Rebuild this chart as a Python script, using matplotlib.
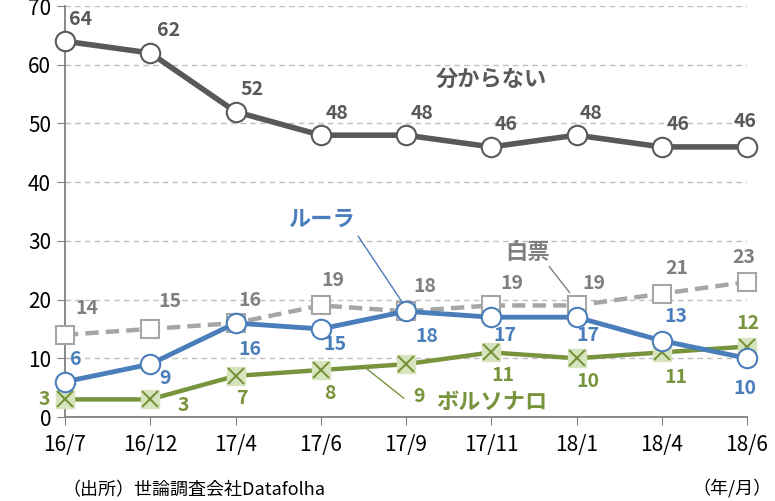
import matplotlib.pyplot as plt
import numpy as np

plt.rcParams['font.family'] = ['Noto Sans CJK JP', 'DejaVu Sans']

months = ['16/7', '16/12', '17/4', '17/6', '17/9', '17/11', '18/1', '18/4', '18/6']
unknown = [64, 62, 52, 48, 48, 46, 48, 46, 46]
lula = [6, 9, 16, 15, 18, 17, 17, 13, 10]
blank = [14, 15, 16, 19, 18, 19, 19, 21, 23]
bolsonaro = [3, 3, 7, 8, 9, 11, 10, 11, 12]

c_dark = '#595959'
c_blue = '#4a7ebb'
c_gray = '#a6a6a6'
c_green = '#77933c'
c_lgreen = '#d7e4bd'

# label offsets in pixels (dx, dy screen-up)
off_unknown = [(15, 22), (18, 22), (17, 22), (16, 22), (16, 22), (15, 22), (15, 22), (16, 22), (-2, 25)]
off_lula = [(11, 22), (15, -14), (14, -26), (14, -16), (21, -25), (14, -18), (11, -18), (14, 24), (-2, -30)]
off_blank = [(22, 26), (20, 27), (14, 23), (12, 25), (19, 25), (21, 22), (17, 22), (15, 25), (-3, 24)]
off_bols = [(-21, 0), (33, -6), (7, -23), (9, -23), (13, -32), (12, -23), (11, -23), (14, -25), (1, 23)]

fig = plt.figure(figsize=(7.75, 5.01), dpi=100)
ax = fig.add_axes([65 / 775, 1 - 417 / 501, 682 / 775, 411 / 501])

x = np.arange(len(months))

ax.plot(x, blank, color=c_gray, lw=3.2, ls=(0, (3, 1.6)), marker='s', ms=13,
        mfc='white', mec=c_gray, mew=1.5, zorder=3, clip_on=False)
ax.plot(x, bolsonaro, color=c_green, lw=3.2, marker='s', ms=13,
        mfc=c_lgreen, mec=c_lgreen, zorder=4, clip_on=False)
ax.plot(x, bolsonaro, ls='none', marker='x', ms=12, mec=c_green, mew=1.5,
        zorder=4, clip_on=False)
ax.plot(x, lula, color=c_blue, lw=3.5, marker='o', ms=14,
        mfc='white', mec=c_blue, mew=1.5, zorder=5, clip_on=False)
ax.plot(x, unknown, color=c_dark, lw=4, marker='o', ms=14,
        mfc='white', mec=c_dark, mew=1.5, zorder=6, clip_on=False)

def labels(vals, offs, col):
    for xi, v, (dx, dy) in zip(x, vals, offs):
        ax.annotate(str(v), (xi, v), xytext=(dx * 0.72, dy * 0.72),
                    textcoords='offset points', ha='center', va='center',
                    fontsize=14, fontweight='bold', color=col, zorder=7)

labels(unknown, off_unknown, c_dark)
labels(lula, off_lula, c_blue)
labels(blank, off_blank, '#7f7f7f')
labels(bolsonaro, off_bols, c_green)

ax.text(5.0, 57.5, '分からない', color=c_dark, fontsize=16, fontweight='bold',
        ha='center', va='center')
ax.text(3.01, 33.6, 'ルーラ', color=c_blue, fontsize=16, fontweight='bold',
        ha='center', va='center')
ax.annotate('', xy=(4.0, 18.6), xytext=(3.42, 31.2),
            arrowprops=dict(arrowstyle='-', color=c_blue, lw=1))
ax.text(5.43, 28.1, '白票', color='#7f7f7f', fontsize=16, fontweight='bold',
        ha='center', va='center')
ax.annotate('', xy=(5.94, 20.8), xytext=(5.66, 26.0),
            arrowprops=dict(arrowstyle='-', color='#7f7f7f', lw=1))
ax.text(5.0, 2.4, 'ボルソナロ', color=c_green, fontsize=16, fontweight='bold',
        ha='center', va='center')
ax.annotate('', xy=(4.0, 2.9), xytext=(3.48, 8.9),
            arrowprops=dict(arrowstyle='-', color=c_green, lw=1))

ax.set_xlim(0, 8)
ax.set_ylim(0, 70)
ax.set_xticks(x)
ax.set_xticklabels(months, fontsize=15)
ax.set_yticks(range(0, 71, 10))
ax.tick_params(axis='y', labelsize=15, length=6, color='#808080', pad=4)
ax.tick_params(axis='x', length=6, color='#808080', pad=6)
ax.yaxis.grid(True, ls=(0, (4, 3)), color='#bfbfbf', lw=1)
ax.set_axisbelow(True)
for s in ['top', 'right']:
    ax.spines[s].set_visible(False)
ax.spines['left'].set_color('#808080')
ax.spines['bottom'].set_color('#808080')
ax.spines['left'].set_linewidth(1.3)
ax.spines['bottom'].set_linewidth(1.3)

fig.text(62 / 775, 1 - 490 / 501, '（出所）世論調査会社Datafolha', fontsize=13,
         ha='left', va='center')
fig.text(772 / 775, 1 - 488 / 501, '（年/月）', fontsize=13, ha='right', va='center')

fig.savefig('out.png', dpi=100)
